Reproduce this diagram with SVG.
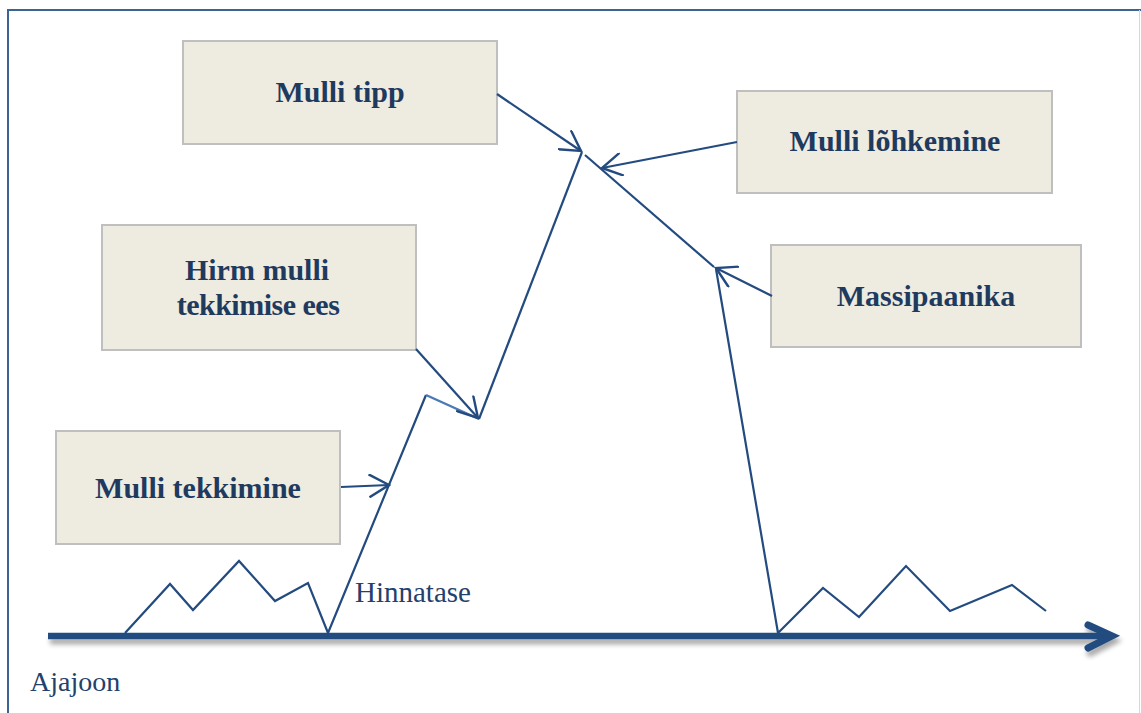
<svg xmlns="http://www.w3.org/2000/svg" width="1141" height="713" viewBox="0 0 1141 713">
<defs>
<style>
.box{fill:#eeebe0;stroke:#bfbfbf;stroke-width:2}
.lbl{font-family:"Liberation Serif","Times New Roman",serif;font-weight:bold;font-size:30px;fill:#1f3a5f;text-anchor:middle}
.plain{font-family:"Liberation Serif","Times New Roman",serif;fill:#24416a}
.ln{fill:none;stroke:#234b7f;stroke-width:2.2;stroke-linejoin:miter}
.con{fill:none;stroke:#234b7f;stroke-width:2.2}
</style>
<marker id="chev" viewBox="0 0 24 24" refX="22" refY="12" markerWidth="24" markerHeight="24" markerUnits="userSpaceOnUse" orient="auto">
<path d="M2,0.5 L22,12 L2,23.5" fill="none" stroke="#234b7f" stroke-width="2.4"/>
</marker>
<filter id="sh" x="-5%" y="-100%" width="110%" height="400%">
<feGaussianBlur in="SourceAlpha" stdDeviation="2.5"/>
<feOffset dx="2" dy="5"/>
<feComponentTransfer><feFuncA type="linear" slope="0.35"/></feComponentTransfer>
<feMerge><feMergeNode/><feMergeNode in="SourceGraphic"/></feMerge>
</filter>
</defs>
<rect width="1141" height="713" fill="#ffffff"/>
<path d="M8,713 V10 H1141" fill="none" stroke="#3d6294" stroke-width="2"/>
<line x1="1139.5" y1="10" x2="1139.5" y2="713" stroke="#d8d8d8" stroke-width="1"/>

<g id="axis" filter="url(#sh)">
<line x1="48" y1="636" x2="1108" y2="636" stroke="#234b7f" stroke-width="6.5"/>
<path d="M1088,625 L1112,636 L1088,648" fill="none" stroke="#234b7f" stroke-width="7" stroke-linecap="round" stroke-linejoin="miter"/>
</g>

<g id="price">
<polyline class="ln" points="125,633 170,584 193,610 239,561 275,601 308,583 328,633 426,395"/>
<line x1="426" y1="395" x2="479" y2="419" stroke="#4a79b5" stroke-width="2.4"/>
<polyline class="ln" points="479,419 582,152"/>
<line class="ln" x1="585" y1="155" x2="714" y2="267"/>
<polyline class="ln" points="716,269 778,633 823,588 859,617 906,566 950,611 1012,585 1046,611"/>
</g>

<g id="node-tipp">
<rect class="box" x="183" y="41" width="314" height="103"/>
<text class="lbl" x="340" y="102">Mulli tipp</text>
</g>
<g id="node-lohkemine">
<rect class="box" x="737" y="91" width="315" height="102"/>
<text class="lbl" x="895" y="151">Mulli lõhkemine</text>
</g>
<g id="node-hirm">
<rect class="box" x="102" y="225" width="314" height="125"/>
<text class="lbl" x="257" y="280">Hirm mulli</text>
<text class="lbl" x="258" y="315" letter-spacing="-0.5">tekkimise ees</text>
</g>
<g id="node-massipaanika">
<rect class="box" x="771" y="245" width="310" height="102"/>
<text class="lbl" x="926" y="306">Massipaanika</text>
</g>
<g id="node-tekkimine">
<rect class="box" x="56" y="431" width="284" height="113"/>
<text class="lbl" x="198" y="498">Mulli tekkimine</text>
</g>

<g id="connectors">
<line class="con" x1="497" y1="94" x2="581" y2="151" marker-end="url(#chev)"/>
<line class="con" x1="737" y1="142" x2="602" y2="168" marker-end="url(#chev)"/>
<line class="con" x1="416" y1="349" x2="478" y2="418" marker-end="url(#chev)"/>
<line class="con" x1="772" y1="296" x2="716" y2="268" marker-end="url(#chev)"/>
<line class="con" x1="341" y1="487" x2="389" y2="485" marker-end="url(#chev)"/>
</g>

<text class="plain" x="355" y="602" font-size="29">Hinnatase</text>
<text class="plain" x="30" y="691" font-size="28">Ajajoon</text>
</svg>
